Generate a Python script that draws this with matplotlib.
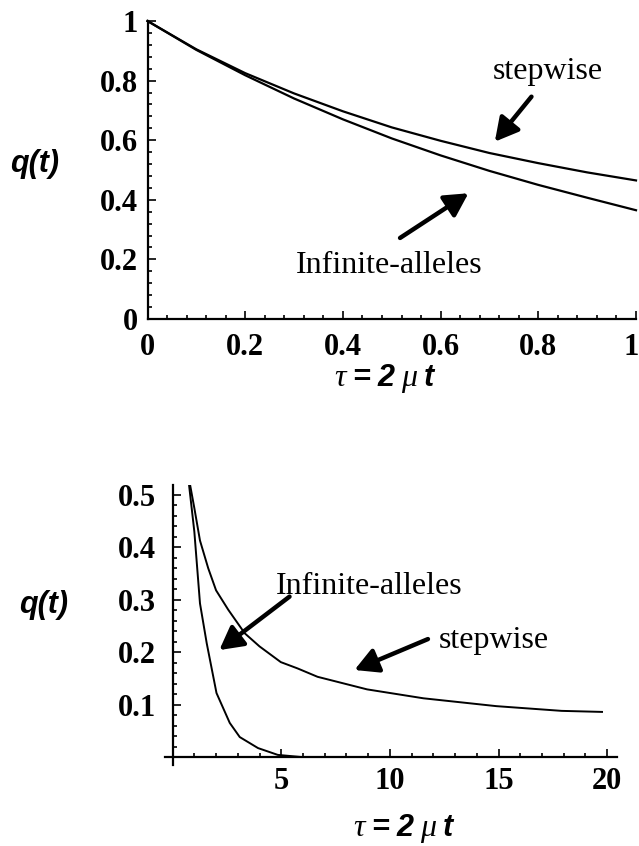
import matplotlib
matplotlib.use("Agg")
import matplotlib.pyplot as plt
from matplotlib.ticker import MultipleLocator, FuncFormatter
from matplotlib.offsetbox import TextArea, HPacker, AnchoredOffsetbox

# values
tau_top = [0, 0.1, 0.2, 0.3, 0.4, 0.5, 0.6, 0.7, 0.8, 0.9, 1.0]
q_step_top = [1.0, 0.905, 0.825, 0.757, 0.697, 0.643, 0.598, 0.557, 0.523, 0.492, 0.465]
q_inf_top = [1.0, 0.903, 0.818, 0.740, 0.670, 0.606, 0.549, 0.497, 0.450, 0.407, 0.365]

tau_step_bot = [0.81, 1.0, 1.26, 1.64, 2.0, 2.56, 3.32, 4.0, 4.98, 5.75, 6.67,
                8.95, 11.54, 14.9, 17.9, 19.76]
q_step_bot = [0.518, 0.475, 0.413, 0.36, 0.318, 0.281, 0.236, 0.211, 0.181,
              0.169, 0.153, 0.129, 0.112, 0.097, 0.088, 0.086]

tau_inf_bot = [0.76, 1.0, 1.26, 1.57, 2.02, 2.63, 3.09, 3.93, 4.84, 5.9]
q_inf_bot = [0.518, 0.43, 0.293, 0.217, 0.122, 0.065, 0.038, 0.017, 0.004, 0.0]

W, H = 639, 846
SERIF = "Liberation Serif"
SANS = "Liberation Sans"


def fx(px):
    return px / W


def fy(py):
    return 1 - py / H


def fmt(v, pos):
    return "%g" % round(v, 3)


def fmt_top_x(v, pos):
    # the "1" at the right end is drawn separately, right-aligned
    return "" if v > 0.99 else fmt(v, pos)


fig = plt.figure(figsize=(W / 100, H / 100), dpi=100)

arrow = dict(arrowstyle="-|>,head_length=0.7,head_width=0.38", lw=3.2,
             color="k", shrinkA=0, shrinkB=0, mutation_scale=20)
note_font = dict(family=SERIF, size=23)
tick_font = dict(family=SERIF, weight="bold", size=22)


def style_ticks(ax):
    ax.tick_params(which="both", direction="in", width=1.2, colors="k")
    ax.tick_params(which="major", length=6)
    ax.tick_params(which="minor", length=3)
    for lab in ax.get_xticklabels() + ax.get_yticklabels():
        lab.set_fontfamily(SERIF)
        lab.set_fontweight("bold")
        lab.set_fontsize(22)
    for s in ["top", "right"]:
        ax.spines[s].set_visible(False)
    for s in ["left", "bottom"]:
        ax.spines[s].set_linewidth(1.6)


# ---- top panel ----
ax1 = fig.add_axes([fx(147.5), fy(319), fx(636) - fx(147.5), fy(21) - fy(319)])
ax1.plot(tau_top, q_step_top, color="k", lw=1.6, clip_on=False)
ax1.plot(tau_top, q_inf_top, color="k", lw=1.6, clip_on=False)
ax1.set_xlim(0, 1)
ax1.set_ylim(0, 1)
ax1.xaxis.set_major_locator(MultipleLocator(0.2))
ax1.xaxis.set_minor_locator(MultipleLocator(0.04))
ax1.yaxis.set_major_locator(MultipleLocator(0.2))
ax1.yaxis.set_minor_locator(MultipleLocator(0.04))
ax1.xaxis.set_major_formatter(FuncFormatter(fmt_top_x))
ax1.yaxis.set_major_formatter(FuncFormatter(fmt))
style_ticks(ax1)
ax1.tick_params(axis="x", pad=10)
ax1.tick_params(axis="y", pad=7)
ax1.annotate("1", xy=(1, 0), xycoords="axes fraction", xytext=(2, -10),
             textcoords="offset points", ha="right", va="top", **tick_font)

ax1.annotate("", xy=(0.711, 0.595), xytext=(0.786, 0.746), arrowprops=arrow)
ax1.annotate("", xy=(0.657, 0.422), xytext=(0.517, 0.272), arrowprops=arrow)
ax1.text(0.820, 0.829, "stepwise", ha="center", va="center", **note_font)
ax1.text(0.494, 0.178, "Infinite-alleles", ha="center", va="center", **note_font)

# ---- bottom panel ----
ax2 = fig.add_axes([fx(165), fy(765), fx(617) - fx(165), fy(485) - fy(765)])
ax2.plot(tau_step_bot, q_step_bot, color="k", lw=1.4)
ax2.plot(tau_inf_bot, q_inf_bot, color="k", lw=1.4)
ax2.set_xlim(-0.35, 20.45)
ax2.set_ylim(-0.0153, 0.519)
ax2.spines["left"].set_position(("data", 0))
ax2.spines["bottom"].set_position(("data", 0))
ax2.set_xticks([5, 10, 15, 20])
ax2.xaxis.set_minor_locator(MultipleLocator(1))
ax2.set_yticks([0.1, 0.2, 0.3, 0.4, 0.5])
ax2.yaxis.set_minor_locator(MultipleLocator(0.02))
ax2.xaxis.set_major_formatter(FuncFormatter(fmt))
ax2.yaxis.set_major_formatter(FuncFormatter(fmt))
style_ticks(ax2)
ax2.tick_params(axis="x", pad=7)
ax2.tick_params(axis="y", pad=12)

ax2.annotate("", xy=(2.15, 0.204), xytext=(5.38, 0.306), arrowprops=arrow)
ax2.annotate("", xy=(8.37, 0.166), xytext=(11.75, 0.225), arrowprops=arrow)
ax2.text(9.06, 0.326, "Infinite-alleles", ha="center", va="center", **note_font)
ax2.text(14.78, 0.223, "stepwise", ha="center", va="center", **note_font)

# ---- axis titles ----
qfont = dict(family=SANS, weight="bold", style="italic", size=22)
fig.text(fx(35), fy(164), "q(t)", ha="center", va="center", **qfont)
fig.text(fx(44), fy(605), "q(t)", ha="center", va="center", **qfont)


def tau_label(x, y):
    greek = dict(family=SERIF, style="italic", size=23)
    bold = dict(family=SANS, style="italic", weight="bold", size=22)
    parts = [TextArea("τ", textprops=greek),
             TextArea("=", textprops=bold),
             TextArea("2", textprops=bold),
             TextArea("μ", textprops=greek),
             TextArea("t", textprops=bold)]
    box = HPacker(children=parts, align="baseline", pad=0, sep=5)
    anch = AnchoredOffsetbox(loc="center", child=box, pad=0, borderpad=0,
                             frameon=False, bbox_to_anchor=(fx(x), fy(y)),
                             bbox_transform=fig.transFigure)
    fig.add_artist(anch)


tau_label(384, 378)
tau_label(403, 828)

fig.savefig("out.png", dpi=100)
